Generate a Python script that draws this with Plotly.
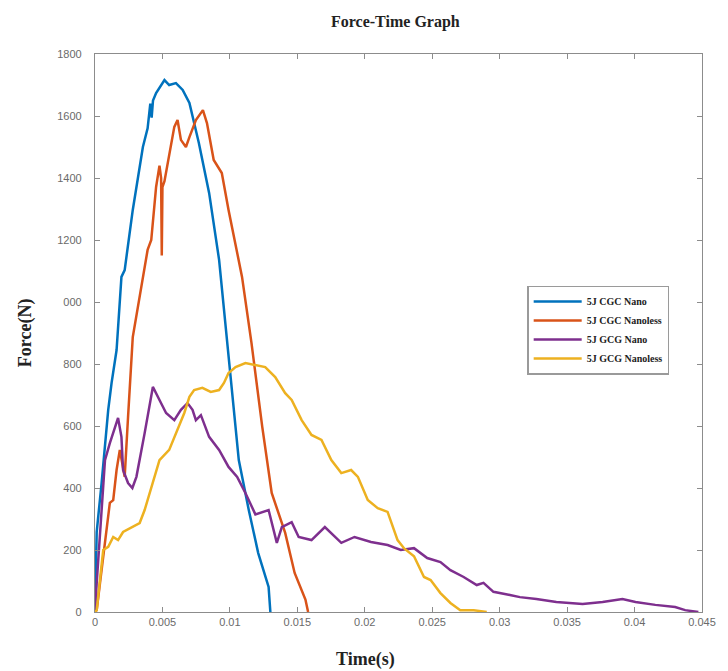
import plotly.graph_objects as go

# ---- data ----
t_cgc_nano = [0, 0.000125, 0.00049, 0.00074, 0.00098, 0.00123, 0.0016, 0.00196, 0.0022, 0.0028, 0.00355,
              0.0039, 0.0040, 0.0041, 0.0042, 0.0043, 0.00453, 0.00515, 0.0055, 0.006, 0.0065, 0.007, 0.0077,
              0.00846, 0.0092, 0.00968, 0.0102, 0.01066, 0.0114, 0.0121, 0.01287, 0.0130]
f_cgc_nano = [0, 258, 416, 545, 652, 739, 845, 1081, 1103, 1297, 1500,
              1560, 1610, 1640, 1595, 1650, 1674, 1716, 1700, 1706, 1684, 1642, 1513,
              1352, 1136, 920, 706, 490, 329, 190, 81, 0]

t_cgc_nanoless = [0, 0.000125, 0.00037, 0.00074, 0.0011, 0.00135, 0.0016, 0.00184, 0.0022, 0.00245, 0.0028,
                  0.0039, 0.00417, 0.00453, 0.00478, 0.0049, 0.00495, 0.0050, 0.00515, 0.00588, 0.00612,
                  0.00637, 0.00674, 0.007, 0.00748, 0.008, 0.0083, 0.0088, 0.0094, 0.0099, 0.0104, 0.0109,
                  0.0116, 0.0124, 0.0131, 0.0141, 0.0148, 0.0156, 0.0158]
f_cgc_nanoless = [0, 6, 93, 222, 352, 361, 458, 523, 436, 629, 887,
                  1168, 1200, 1371, 1440, 1400, 1150, 1371, 1390, 1565, 1587,
                  1523, 1500, 1532, 1587, 1619, 1577, 1458, 1416, 1297, 1190, 1081,
                  868, 597, 384, 255, 126, 40, 0]

t_gcg_nano = [0, 0.000125, 0.00074, 0.0011, 0.00171, 0.00196, 0.00208, 0.00245, 0.00277, 0.00307, 0.00368,
              0.00429, 0.00478, 0.00527, 0.00588, 0.00637, 0.00686, 0.00723, 0.00748, 0.00785, 0.00846,
              0.0092, 0.0099, 0.01054, 0.01115, 0.01189, 0.01287, 0.01348, 0.01385, 0.01458, 0.0151,
              0.01605, 0.01704, 0.01826, 0.01924, 0.02046, 0.02169, 0.02267, 0.02365, 0.02463, 0.02561,
              0.02635, 0.02733, 0.0283, 0.0288, 0.02954, 0.03076, 0.0315, 0.03272, 0.0342, 0.03615,
              0.03763, 0.0391, 0.04007, 0.04154, 0.04301, 0.04375, 0.04473]
f_gcg_nano = [0, 93, 490, 545, 626, 565, 458, 416, 400, 436, 577,
              726, 684, 642, 619, 652, 674, 652, 619, 635, 565,
              523, 468, 436, 384, 315, 329, 223, 274, 290, 242,
              232, 274, 223, 242, 226, 216, 200, 206, 174, 161,
              135, 113, 87, 94, 65, 55, 48, 42, 32, 26,
              32, 42, 32, 23, 16, 6, 0]

t_gcg_nanoless = [0, 0.000125, 0.00061, 0.00098, 0.00135, 0.00171, 0.00208, 0.0028, 0.00331, 0.00368,
                  0.00429, 0.00478, 0.0055, 0.00612, 0.00662, 0.007, 0.00735, 0.00796, 0.00858, 0.0092,
                  0.00956, 0.0099, 0.01042, 0.01115, 0.01189, 0.01262, 0.01336, 0.0141, 0.01458, 0.01532,
                  0.01605, 0.01679, 0.01752, 0.01826, 0.01899, 0.01949, 0.02022, 0.02096, 0.02169, 0.02243,
                  0.02292, 0.02365, 0.02439, 0.02488, 0.02561, 0.02635, 0.02708, 0.02807, 0.02904]
f_gcg_nanoless = [0, 6, 200, 210, 242, 232, 258, 274, 287, 329,
                  416, 490, 523, 587, 642, 694, 716, 723, 710, 716,
                  739, 771, 790, 803, 797, 790, 758, 706, 684, 619,
                  571, 555, 490, 448, 458, 436, 361, 335, 323, 232,
                  205, 180, 113, 103, 61, 29, 6, 6, 0]

series_names = ["5J CGC Nano", "5J CGC Nanoless", "5J GCG Nano", "5J GCG Nanoless"]
series_colors = ["#0072BD", "#D95319", "#7E2F8E", "#EDB120"]

y_tick_vals = [0, 200, 400, 600, 800, 1000, 1200, 1400, 1600, 1800]
y_tick_text = ["0", "200", "400", "600", "800", "000", "1200", "1400", "1600", "1800"]
x_tick_vals = [0, 0.005, 0.01, 0.015, 0.02, 0.025, 0.03, 0.035, 0.04, 0.045]
x_tick_text = ["0", "0.005", "0.01", "0.015", "0.02", "0.025", "0.03", "0.035", "0.04", "0.045"]

fig = go.Figure()
for tx, fy, name, col in zip(
        [t_cgc_nano, t_cgc_nanoless, t_gcg_nano, t_gcg_nanoless],
        [f_cgc_nano, f_cgc_nanoless, f_gcg_nano, f_gcg_nanoless],
        series_names, series_colors):
    fig.add_trace(go.Scatter(x=tx, y=fy, mode="lines", name=name,
                             line=dict(color=col, width=2.5)))

axis_common = dict(showgrid=False, zeroline=False, showline=True, linecolor="#8c8c8c", linewidth=1.2,
                   mirror="ticks", ticks="inside", ticklen=5, tickcolor="#8c8c8c",
                   tickfont=dict(family="Liberation Sans, Arial", size=11, color="#6a6a6a"))

serif = "Liberation Serif, Times New Roman"

fig.update_layout(
    width=720, height=663,
    margin=dict(l=87, r=18, t=46, b=59),
    paper_bgcolor="white", plot_bgcolor="white",
    showlegend=True,
    legend=dict(x=0.712, y=0.585, xanchor="left", yanchor="top",
                bgcolor="rgba(255,255,255,0)", bordercolor="#9a9a9a", borderwidth=1.5,
                font=dict(family=serif, size=10, color="#222222", weight="bold"),
                tracegroupgap=1, itemwidth=48),
    xaxis=dict(range=[0, 0.045], tickvals=x_tick_vals, ticktext=x_tick_text, **axis_common),
    yaxis=dict(range=[0, 1800], tickvals=y_tick_vals, ticktext=y_tick_text,
               ticklabelstandoff=10, **axis_common),
    title=dict(text="<b>Force-Time Graph</b>", x=0.538, xanchor="center", y=0.98, yanchor="middle",
               font=dict(family=serif, size=16, color="#222")),
    annotations=[
        dict(text="<b>Time(s)</b>", x=0.445, y=-0.085, xref="paper", yref="paper",
             xanchor="center", yanchor="middle", showarrow=False,
             font=dict(family=serif, size=18, color="#222")),
        dict(text="<b>Force(N)</b>", x=-0.115, y=0.5, xref="paper", yref="paper", textangle=-90,
             xanchor="center", yanchor="middle", showarrow=False,
             font=dict(family=serif, size=18, color="#222")),
    ],
)

fig.write_html("out.html")
